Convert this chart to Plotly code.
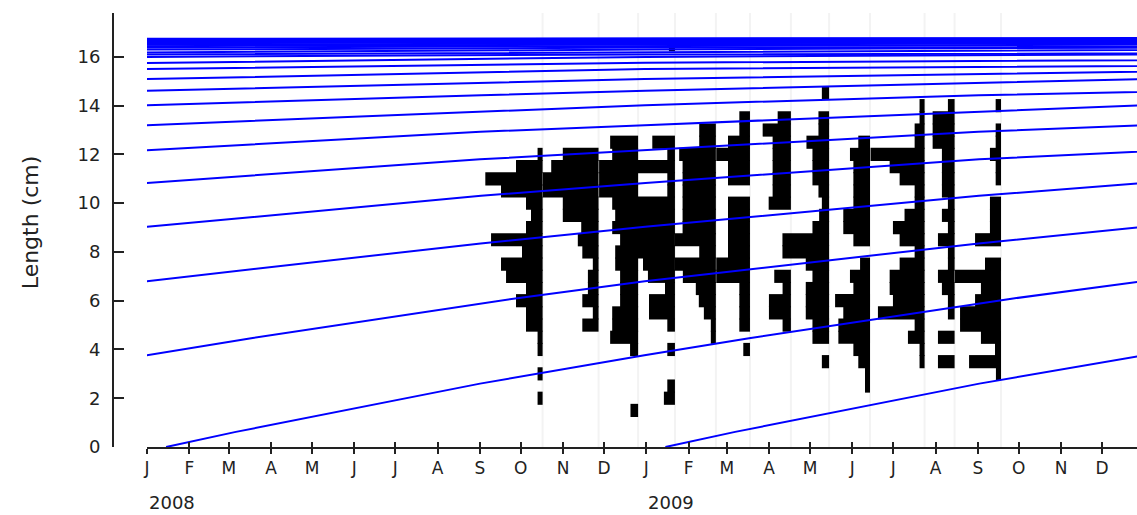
import pandas as pd
import plotly.graph_objects as go

# Length classes (class mid-points, cm)
length_classes = [1.5, 2.0, 2.5, 3.0, 3.5, 4.0, 4.5, 5.0, 5.5, 6.0, 6.5,
                  7.0, 7.5, 8.0, 8.5, 9.0, 9.5, 10.0, 10.5, 11.0, 11.5, 12.0,
                  12.5, 13.0, 13.5, 14.0, 14.5, 15.0, 15.5, 16.0, 16.5]

# Sampling dates
sample_dates = ["2008-10-17", "2008-11-27", "2008-12-26", "2009-01-22",
                "2009-02-21", "2009-03-18", "2009-04-17", "2009-05-15",
                "2009-06-14", "2009-07-24", "2009-08-15", "2009-09-18"]

# Positive peak scores per sample, expressed as bar length in days
s01 = [0, 3.7, 0, 3.7, 0, 3.7, 3.7, 12.2, 12.2, 19.5, 12.2, 26.8, 30.5, 15.1, 37.8, 12.2,
       8.5, 12.2, 30.5, 42, 19.5, 3.7, 0, 0, 0, 0, 0, 0, 0, 0, 0]
s02 = [0, 0, 0, 0, 0, 0, 0, 11.9, 4.2, 11.9, 7.8, 7.8, 4.2, 11.9, 15.2, 12.7,
       26.2, 26.2, 40.8, 40.8, 34.7, 26.2, 0, 0, 0, 0, 0, 0, 0, 0, 0]
s03 = [5.6, 0, 0, 0, 0, 5.9, 20.5, 19, 19, 13.2, 13.2, 13.2, 16.8, 16.8, 13.2, 19,
       16.8, 19, 28.6, 28.6, 28.6, 19, 20.5, 0, 0, 0, 0, 0, 0, 0, 0]
s04 = [0, 8.1, 5.6, 0, 0, 5.6, 0, 5.6, 19, 19, 7.3, 19.8, 23.4, 27.8, 27.8, 27.8,
       27.8, 27.8, 5.6, 5.6, 27.8, 5.6, 16.6, 0, 0, 0, 0, 0, 0, 0, 4.4]
s05 = [0, 0, 0, 0, 0, 0, 3.7, 3.7, 8.8, 12.5, 14.7, 24.2, 30, 12.2, 30, 24.4,
       24.4, 24.4, 24.4, 24.4, 24.4, 26.9, 12.2, 12.2, 0, 0, 0, 0, 0, 0, 0]
s06 = [0, 0, 0, 0, 0, 4.9, 0, 7.8, 7.8, 7.8, 7.8, 24.7, 24.7, 16.1, 16.1, 16.1,
       16.1, 16.1, 0, 16.1, 16.1, 24.7, 16.1, 7.8, 7.8, 0, 0, 0, 0, 0, 0]
s07 = [0, 0, 0, 0, 0, 0, 0, 6.1, 16.1, 16.1, 6.1, 12.2, 0, 0, 0, 0,
       0, 16.3, 13.4, 13.4, 13.4, 13.4, 13.4, 20.7, 9.7, 0, 0, 0, 0, 0, 0]
s08 = [0, 0, 0, 0, 5.3, 0, 12.2, 12.2, 17.1, 17.1, 17.1, 12.2, 17.1, 34.2, 34.2, 12.2,
       7.3, 5.3, 7.8, 12.2, 12.2, 12.2, 16.6, 7.8, 7.8, 0, 5.3, 0, 0, 0, 0]
s09 = [0, 0, 3.7, 3.7, 8.6, 12.2, 23.2, 23.2, 19.6, 25.6, 12.2, 14.7, 7.3, 0, 12.2, 19.6,
       19.6, 12.2, 12.2, 12.2, 12.2, 14.7, 8.6, 0, 0, 0, 0, 0, 0, 0, 0]
s10 = [0, 0, 0, 0, 3.7, 3.7, 12.2, 7.3, 34.2, 23.2, 25.6, 25.6, 18.3, 7.3, 18.3, 23.2,
       14.7, 7.3, 7.3, 18.3, 25.6, 39.6, 7.3, 7.3, 3.7, 3.7, 0, 0, 0, 0, 0]
s11 = [0, 0, 0, 0, 12.2, 0, 12.2, 0, 4.9, 4.9, 9.3, 12.2, 4.9, 4.9, 12.2, 4.9,
       9.3, 4.9, 9.3, 9.3, 9.3, 9.3, 16.1, 16.1, 16.1, 4.9, 0, 0, 0, 0, 0]
s12 = [0, 0, 0, 3.7, 23.4, 4.4, 14.7, 30, 30, 19, 14.7, 33.7, 11.7, 0, 19, 8.1,
       8.1, 8.1, 0, 3.9, 3.9, 8.1, 3.9, 3.9, 0, 3.9, 0, 0, 0, 0, 0]
bar_days = [s01, s02, s03, s04, s05, s06, s07, s08, s09, s10, s11, s12]

# Growth curve: length (cm) against age (years) after the annual recruitment date
curve_age = [0.0, 0.14, 0.63, 0.90, 0.96, 1.17, 1.43, 1.63, 1.70, 1.96, 2.63, 2.96,
             3.63, 3.96, 4.63, 4.96, 5.63, 5.96, 6.63, 6.96, 7.63, 7.96, 8.96, 9.96,
             10.96, 11.96, 12.96, 13.96, 14.96, 15.96, 16.96, 17.96, 18.96, 19.96,
             20.96, 21.96, 22.96, 23.96, 24.96, 25.96, 26.96, 27.96]
curve_len = [0.0, 0.62, 2.6, 3.57, 3.76, 4.46, 5.27, 5.88, 6.09, 6.8, 8.35, 9.03,
             10.3, 10.83, 11.8, 12.17, 12.93, 13.2, 13.77, 14.02, 14.43, 14.61, 15.09,
             15.5, 15.76, 16.0, 16.1, 16.18, 16.3, 16.38, 16.45, 16.51, 16.56, 16.6,
             16.64, 16.67, 16.69, 16.71, 16.73, 16.75, 16.76, 16.77]
recruit_day = "01-15"
cohort_years = [1982, 1983, 1984, 1985, 1986, 1987, 1988, 1989, 1990, 1991, 1992,
                1993, 1994, 1995, 1996, 1997, 1998, 1999, 2000, 2001, 2002, 2003,
                2004, 2005, 2006, 2007, 2008, 2009]

month_letters = ["J", "F", "M", "A", "M", "J", "J", "A", "S", "O", "N", "D"] * 2
year_labels = ["2008", "2009"]
y_ticks = [0, 2, 4, 6, 8, 10, 12, 14, 16]

FONT = "DejaVu Sans"
INK = "#222222"
X_START = pd.Timestamp("2008-01-01")
X_END = pd.Timestamp("2009-12-26 17:00")
Y_TOP = 17.8
DAY_MS = 86400000.0

fig = go.Figure()

# sampling-date guide lines
for d in sample_dates:
    fig.add_shape(type="line", xref="x", yref="y", x0=d, x1=d, y0=0, y1=Y_TOP,
                  line=dict(color="#f3f3f3", width=2), layer="below")

# restructured frequency bars, drawn leftwards from each sampling date
bar_y, bar_len, bar_base = [], [], []
for d, days in zip(sample_dates, bar_days):
    t = pd.Timestamp(d)
    for cls, w in zip(length_classes, days):
        if w > 0:
            bar_y.append(cls)
            bar_len.append(w * DAY_MS)
            bar_base.append((t - pd.Timedelta(days=w)).strftime("%Y-%m-%d %H:%M:%S"))
fig.add_trace(go.Bar(orientation="h", y=bar_y, x=bar_len, base=bar_base, width=0.54,
                     marker=dict(color="black", line=dict(width=0)),
                     hoverinfo="skip", showlegend=False))

# growth curves, one per annual cohort
for yr in cohort_years:
    birth = pd.Timestamp(f"{yr}-{recruit_day}")
    xs = [birth + pd.Timedelta(days=a * 365.25) for a in curve_age]
    fig.add_trace(go.Scatter(x=xs, y=curve_len, mode="lines",
                             line=dict(color="#0000ff", width=2),
                             hoverinfo="skip", showlegend=False))

# companion axis giving the upward half of the crossing x ticks
fig.add_trace(go.Scatter(x=[], y=[], xaxis="x2", yaxis="y", showlegend=False))

month_ticks = list(pd.date_range("2008-01-01", "2009-12-01", freq="MS"))

fig.update_layout(
    width=1137, height=515,
    margin=dict(l=113, r=0, t=13, b=68),
    paper_bgcolor="white", plot_bgcolor="white",
    barmode="overlay",
    font=dict(family=FONT, size=17, color=INK),
    xaxis=dict(type="date", domain=[34 / 1024, 1], range=[X_START, X_END],
               tickvals=month_ticks, ticktext=month_letters,
               ticks="outside", ticklen=5, tickwidth=1.5, tickcolor=INK,
               showline=True, linecolor=INK, linewidth=1.5,
               showgrid=False, zeroline=False,
               tickfont=dict(family=FONT, size=17, color=INK)),
    xaxis2=dict(type="date", overlaying="x", anchor="y", side="bottom",
                domain=[34 / 1024, 1], range=[X_START, X_END],
                tickvals=month_ticks, ticks="inside", ticklen=5, tickwidth=1.5,
                tickcolor=INK, showticklabels=False, showline=False,
                showgrid=False, zeroline=False),
    yaxis=dict(range=[0, Y_TOP], anchor="free", position=0,
               tickvals=y_ticks, ticks="inside", ticklen=10, tickwidth=1.5,
               tickcolor=INK, showline=True, linecolor=INK, linewidth=2,
               showgrid=False, zeroline=False, ticklabelstandoff=8,
               tickfont=dict(family=FONT, size=18, color=INK)),
)

for lab in year_labels:
    fig.add_annotation(text=lab, x=f"{lab}-01-01", xref="x", y=-0.1275, yref="paper",
                       xanchor="left", yanchor="middle", showarrow=False,
                       font=dict(family=FONT, size=18, color=INK))

fig.add_annotation(text="Length (cm)", x=-0.081, y=0.518, xref="paper", yref="paper",
                   textangle=-90, showarrow=False, xanchor="center", yanchor="middle",
                   font=dict(family=FONT, size=22, color=INK))

fig.write_html("out.html")
